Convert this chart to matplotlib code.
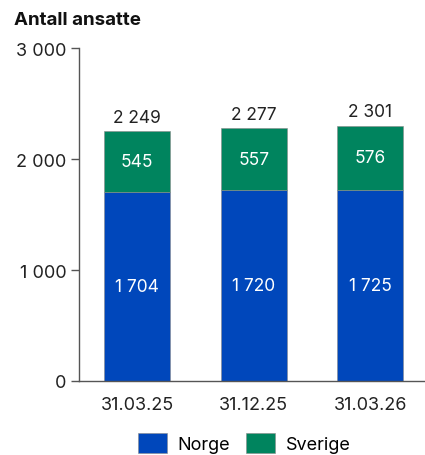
import numpy as np
import matplotlib.pyplot as plt

plt.rcParams['font.family'] = ['Inter', 'DejaVu Sans']

datoer = ['31.03.25', '31.12.25', '31.03.26']
norge = [1704, 1720, 1725]
sverige = [545, 557, 576]
yticks = [0, 1000, 2000, 3000]

blue = '#0047BB'
green = '#00845E'


def fmt(v):
    # norsk tusenskille
    return f'{v:,}'.replace(',', ' ')


fig = plt.figure(figsize=(4.25, 4.56), dpi=100)
ax = fig.add_axes([0.186, 0.1623, 0.814, 0.7302])

x = np.arange(len(datoer))
w = 0.57
ax.bar(x, norge, w, color=blue, label='Norge', edgecolor='#8a8a8a', linewidth=0.4)
ax.bar(x, sverige, w, bottom=norge, color=green, label='Sverige', edgecolor='#8a8a8a', linewidth=0.4)

for i in range(len(x)):
    ax.text(x[i], norge[i] / 2, fmt(norge[i]), ha='center', va='center', color='white', fontsize=12.5)
    ax.text(x[i], norge[i] + sverige[i] / 2, fmt(sverige[i]), ha='center', va='center', color='white', fontsize=12.5)
    total = norge[i] + sverige[i]
    ax.text(x[i], total + 50, fmt(total), ha='center', va='bottom', color='#222222', fontsize=12.5)

ax.set_xlim(-0.5, 2.47)
ax.set_ylim(0, 3000)
ax.set_yticks(yticks)
ax.set_yticklabels([fmt(t) for t in yticks])
ax.set_xticks(x)
ax.set_xticklabels(datoer)
ax.tick_params(axis='y', length=6, width=1, color='#555555', labelsize=13, labelcolor='#222222', pad=3)
ax.tick_params(axis='x', length=0, labelsize=13, labelcolor='#222222', pad=11)
for s in ['top', 'right']:
    ax.spines[s].set_visible(False)
for s in ['left', 'bottom']:
    ax.spines[s].set_color('#555555')
    ax.spines[s].set_linewidth(1)

fig.text(0.033, 0.956, 'Antall ansatte', fontsize=13.5, fontweight='bold', color='#111111', va='center')

fig.legend(loc='lower center', bbox_to_anchor=(0.575, -0.032), ncol=2, frameon=False,
           fontsize=13, handlelength=1.6, handleheight=1.3, columnspacing=0.9, handletextpad=0.6)

fig.savefig('out.png', dpi=100)
